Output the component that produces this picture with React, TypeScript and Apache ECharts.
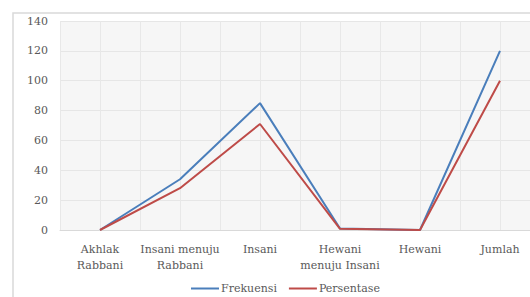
import React, { useEffect, useRef } from "react";
import * as echarts from "echarts";

const categories = ["Akhlak\nRabbani", "Insani menuju\nRabbani", "Insani", "Hewani\nmenuju Insani", "Hewani", "Jumlah"];
const frekuensi = [0, 34, 85, 1, 0, 120];
const persentase = [0, 28, 71, 0.8, 0, 100];
const yTicks = { min: 0, max: 140, interval: 20 };

const FONT = "DejaVu Serif";
const TXT = "#595959";

export default function App() {
  const ref = useRef<HTMLDivElement>(null);
  useEffect(() => {
    document.body.style.margin = "0";
    const chart = echarts.init(ref.current!, undefined, { renderer: "svg" });
    chart.setOption({
      animation: false,
      backgroundColor: "#ffffff",
      textStyle: { fontFamily: FONT },
      graphic: [
        {
          type: "rect",
          shape: { x: 13, y: 13, width: 540, height: 300 },
          style: { fill: "none", stroke: "#d9d9d9", lineWidth: 1.5 },
          silent: true,
          z: -1,
        },
      ],
      grid: {
        left: 60,
        top: 21,
        right: -10,
        bottom: 67,
        outerBoundsMode: "none",
        show: true,
        backgroundColor: "#f6f6f6",
        borderWidth: 0,
      },
      legend: {
        left: 186,
        top: 278,
        icon: "rect",
        itemWidth: 28,
        itemHeight: 2,
        itemGap: 12,
        textStyle: { fontFamily: FONT, fontSize: 11, color: TXT, padding: [0, 0, 0, -3] },
        data: ["Frekuensi", "Persentase"],
      },
      xAxis: [
        {
          type: "category",
          data: categories,
          boundaryGap: true,
          axisLine: { show: true, lineStyle: { color: "#d9d9d9" } },
          axisTick: { show: false },
          splitLine: { show: true, lineStyle: { color: "#e8e8e8" } },
          axisLabel: {
            fontFamily: FONT,
            fontSize: 11,
            color: TXT,
            lineHeight: 16,
            margin: 11,
            interval: 0,
          },
        },
        {
          type: "value",
          min: 0,
          max: 12,
          interval: 1,
          position: "top",
          axisLine: { show: false },
          axisTick: { show: false },
          axisLabel: { show: false },
          splitLine: { show: true, lineStyle: { color: "#e8e8e8" } },
        },
      ],
      yAxis: {
        type: "value",
        min: yTicks.min,
        max: yTicks.max,
        interval: yTicks.interval,
        axisLine: { show: false },
        axisTick: { show: false },
        splitLine: { show: true, lineStyle: { color: "#e6e6e6" } },
        axisLabel: { fontFamily: FONT, fontSize: 11, color: TXT, margin: 12 },
      },
      series: [
        {
          name: "Frekuensi",
          type: "line",
          data: frekuensi,
          xAxisIndex: 0,
          symbol: "none",
          itemStyle: { color: "#4a7ebb" },
          lineStyle: { color: "#4a7ebb", width: 2 },
        },
        {
          name: "Persentase",
          type: "line",
          data: persentase,
          xAxisIndex: 0,
          symbol: "none",
          itemStyle: { color: "#be4b48" },
          lineStyle: { color: "#be4b48", width: 2 },
        },
      ],
    });
    return () => chart.dispose();
  }, []);
  return <div ref={ref} style={{ width: 530, height: 297 }} />;
}
